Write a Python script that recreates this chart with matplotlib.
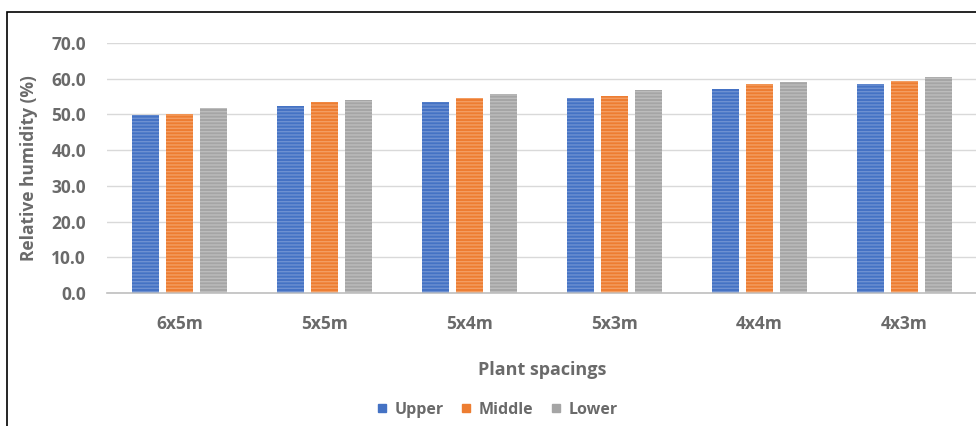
import numpy as np
import matplotlib.pyplot as plt
from matplotlib.patches import Rectangle
from matplotlib.lines import Line2D

spacings = ['6x5m', '5x5m', '5x4m', '5x3m', '4x4m', '4x3m']
upper  = [49.9, 52.5, 53.5, 54.6, 57.0, 58.6]
middle = [50.2, 53.6, 54.5, 55.1, 58.5, 59.4]
lower  = [51.7, 54.1, 55.6, 56.8, 59.1, 60.4]
series = [('Upper', upper, '#4472C4', '#8FAADC'),
          ('Middle', middle, '#ED7D31', '#F8B98C'),
          ('Lower', lower, '#A5A5A5', '#D0D0D0')]

plt.rcParams['font.family'] = ['Open Sans', 'DejaVu Sans']
plt.rcParams['font.weight'] = 'bold'
plt.rcParams['axes.labelweight'] = 'bold'
txt = '#6A6A6A'

fig = plt.figure(figsize=(9.76, 4.26), dpi=100)
ax = fig.add_axes([107/976, 1 - 293/426, 870/976, 250/426])

x = np.arange(len(spacings))
w, step = 0.19, 0.234
for i, (name, vals, col, light) in enumerate(series):
    pos = x + (i - 1) * step
    ax.bar(pos, vals, width=w, color=col, zorder=2)
    # light horizontal banding over the solid fill
    ax.bar(pos, vals, width=w, facecolor='none', edgecolor=light,
           linewidth=0, hatch='-----', alpha=0.55, zorder=3)

ax.set_xlim(-0.5, len(spacings) - 0.5)
ax.set_ylim(0, 70)
ax.set_yticks(np.arange(0, 71, 10))
ax.set_yticklabels([f'{v:.1f}' for v in range(0, 71, 10)])
ax.set_xticks(x)
ax.set_xticklabels(spacings)
ax.yaxis.grid(True, color='#D9D9D9', lw=1, zorder=0)
ax.set_axisbelow(True)
for s in ['top', 'right', 'left']:
    ax.spines[s].set_visible(False)
ax.spines['bottom'].set_color('#BFBFBF')
ax.spines['bottom'].set_linewidth(1.2)
ax.tick_params(length=0, colors=txt, labelsize=12.5)
ax.tick_params(axis='y', pad=15)
ax.tick_params(axis='x', pad=16)

ax.set_ylabel('Relative humidity (%)', color=txt, fontsize=12.5, labelpad=10)
ax.set_xlabel('Plant spacings', color=txt, fontsize=13, labelpad=20)

handles = [Line2D([], [], marker='s', ls='none', color=c, markersize=6)
           for _, _, c, _ in series]
fig.legend(handles, [n for n, _, _, _ in series], loc='center',
           bbox_to_anchor=(496/976, 1 - 410/426), ncol=3, frameon=False,
           prop={'size': 11.5, 'weight': 'bold'}, labelcolor=txt,
           handletextpad=0.3, columnspacing=0.9, handlelength=1.0)

fig.patches.append(Rectangle((7/976, -0.05), 1.0, 1 - 12/426 + 0.05,
                             transform=fig.transFigure, fill=False,
                             edgecolor='black', lw=1.2))

fig.savefig('out.png', dpi=100)
